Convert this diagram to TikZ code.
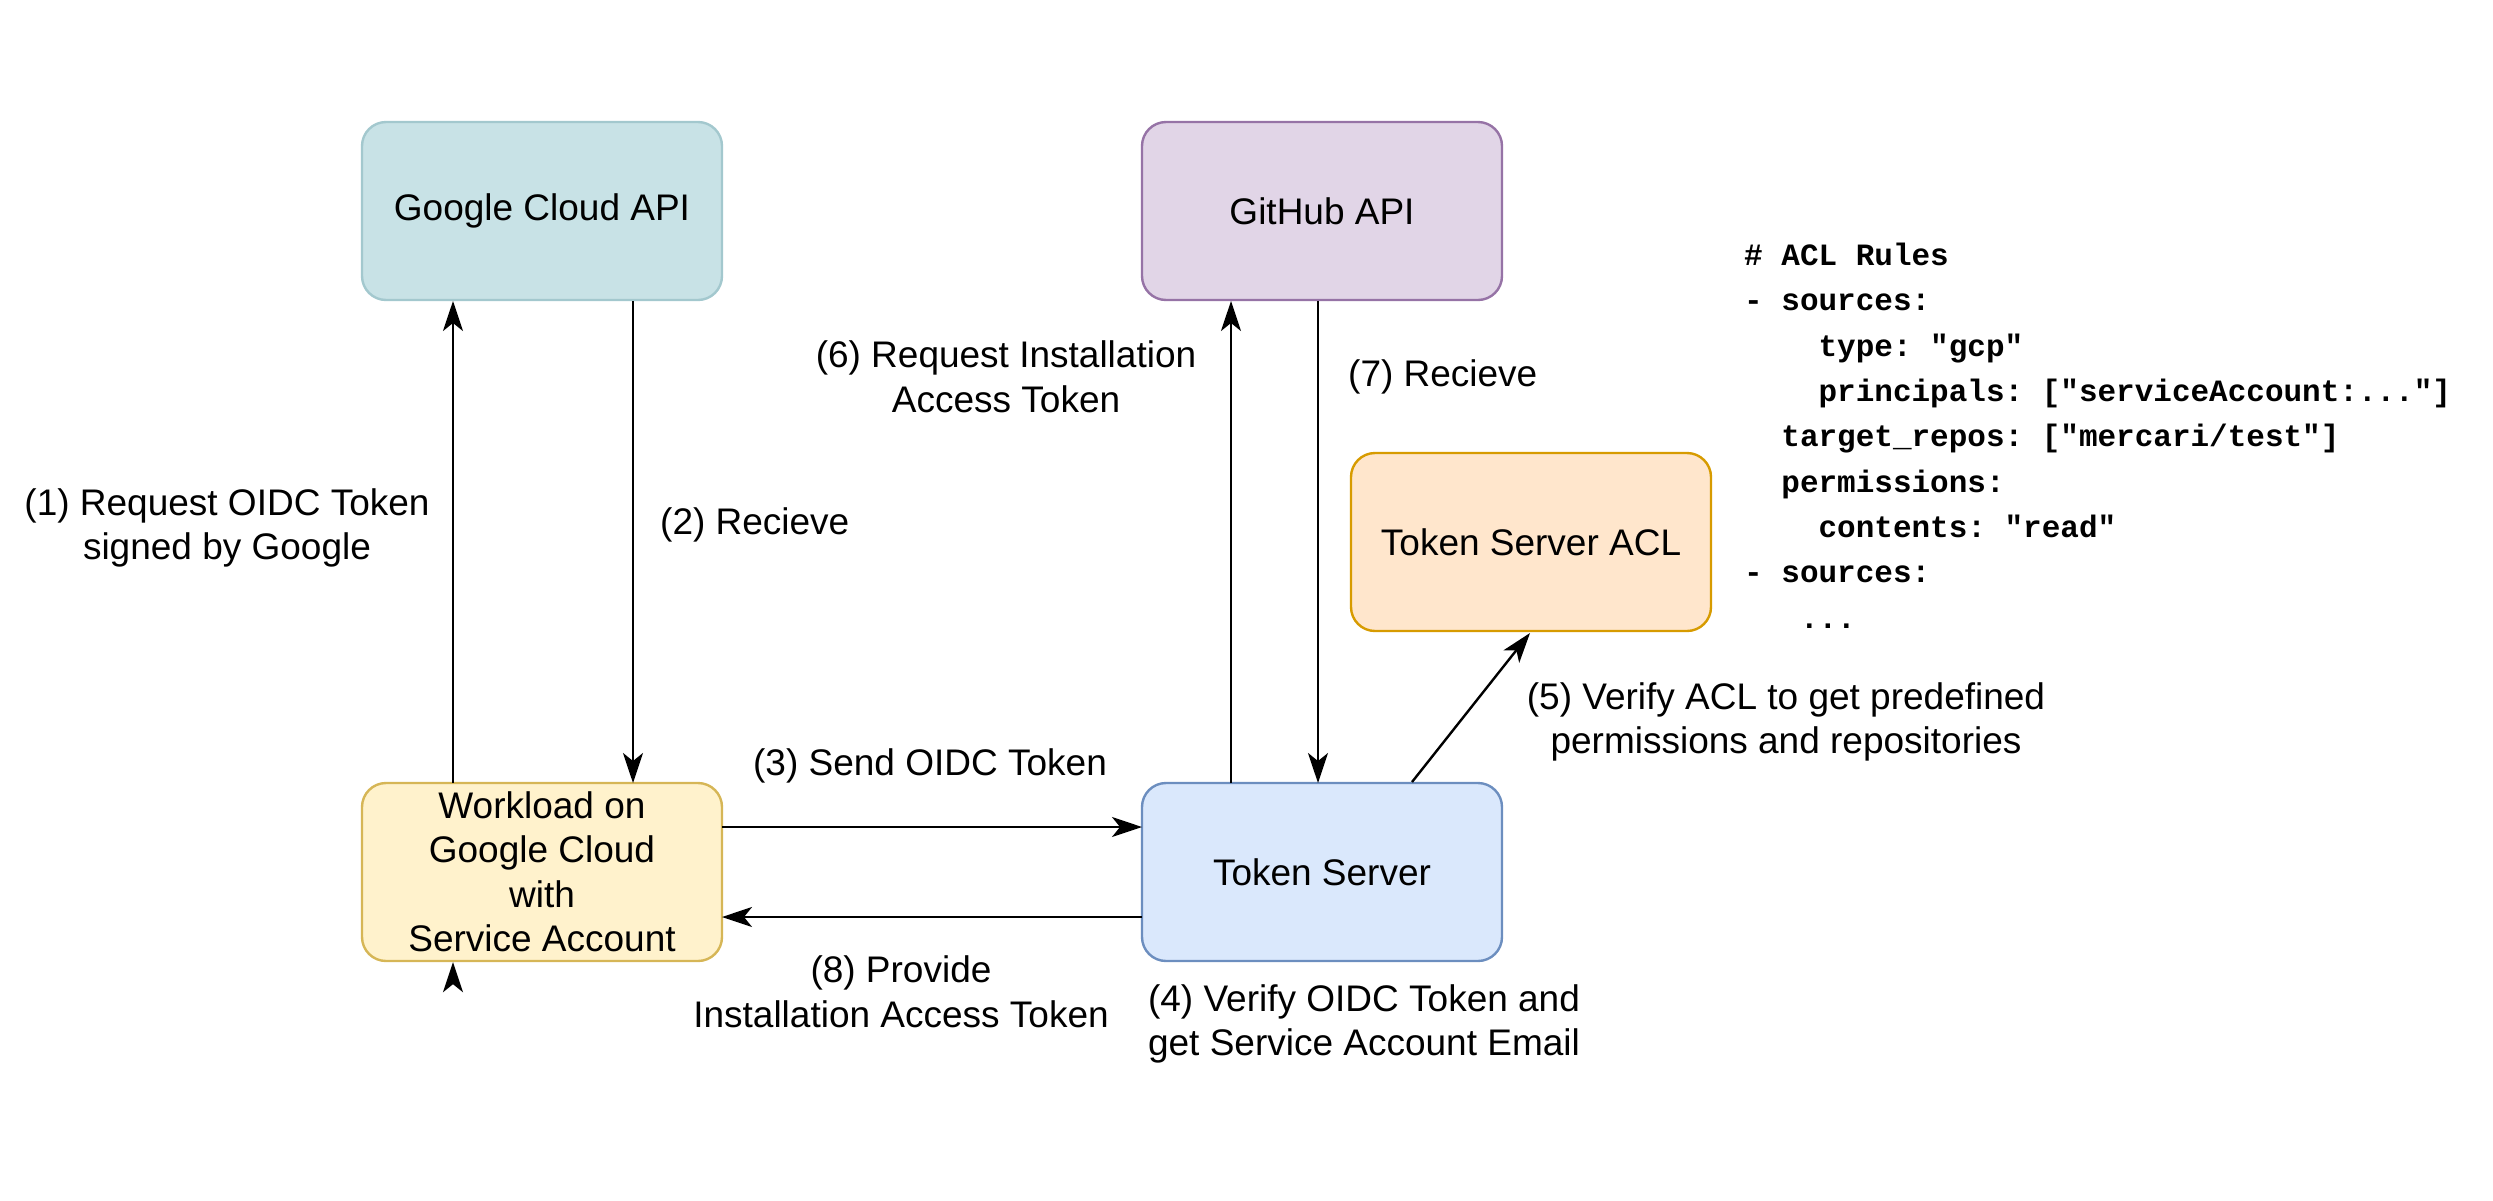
\documentclass[tikz,border=0pt]{standalone}
\usepackage{fontspec}
\setmainfont{Liberation Sans}
\newfontfamily\aclmono{Liberation Mono}
\usetikzlibrary{arrows.meta}
\definecolor{gcF}{HTML}{C8E2E6}\definecolor{gcD}{HTML}{A3C8CE}
\definecolor{ghF}{HTML}{E1D5E7}\definecolor{ghD}{HTML}{9673A6}
\definecolor{wlF}{HTML}{FFF2CC}\definecolor{wlD}{HTML}{D6B656}
\definecolor{tsF}{HTML}{DAE8FC}\definecolor{tsD}{HTML}{6C8EBF}
\definecolor{acF}{HTML}{FFE6CC}\definecolor{acD}{HTML}{D79B00}
\begin{document}
\begin{tikzpicture}[x=1pt,y=-1pt,
  box/.style={draw, line width=2.4pt, rounded corners=24pt, minimum width=360pt, minimum height=178pt, align=center, font=\fontsize{37}{44.5}\selectfont, inner sep=0pt},
  lbl/.style={align=center, font=\fontsize{37}{44.5}\selectfont, inner sep=0pt},
  arr/.style={line width=2.4pt, -{Stealth[length=30pt,width=20pt,inset=8pt]}}]
\useasboundingbox (0,0) rectangle (2493,1200);
\node[box, fill=gcF, draw=gcD] (gc) at (542,211) {Google Cloud API};
\node[box, fill=ghF, draw=ghD] (gh) at (1322,211) {GitHub API};
\node[box, fill=wlF, draw=wlD] (wl) at (542,872) {Workload on\\Google Cloud\\with\\Service Account};
\node[box, fill=tsF, draw=tsD] (ts) at (1322,872) {Token Server};
\node[box, fill=acF, draw=acD] (acl) at (1531,542) {Token Server ACL};
\draw[arr] (wl.south west -| 453,0) ++(0,0) coordinate (a1s);
\draw[arr] (453,783) coordinate (p1) -- (453,301) coordinate (q1);
\draw[arr] (633,301) -- (633,783);
\draw[arr] (1231,783) -- (1231,301);
\draw[arr] (1318,301) -- (1318,783);
\draw[arr] (722,827) -- (1142,827);
\draw[arr] (1142,917) -- (722,917);
\draw[arr] (1412,782) -- (1530,633);
\node[lbl] (l1) at (227,528) {(1) Request OIDC Token\\signed by Google};
\node[lbl, anchor=west] (l2) at (660,525) {(2) Recieve};
\node[lbl] (l6) at (1006,377) {(6) Request Installation\\Access Token};
\node[lbl, anchor=west] (l7) at (1348,377) {(7) Recieve};
\node[lbl] (l3) at (930,766) {(3) Send OIDC Token};
\node[lbl] (l8) at (901,992) {(8) Provide\\Installation Access Token};
\node[lbl] (l4) at (1364,1024) {(4) Verify OIDC Token and\\get Service Account Email};
\node[lbl] (l5) at (1786,722) {(5) Verify ACL to get predefined\\permissions and repositories};
\node[anchor=north west, align=left, inner sep=0pt, font=\aclmono\bfseries\fontsize{31}{45.3}\selectfont] (code) at (1744,243) {%
\#~ACL~Rules\\
-~sources:\\
\ \ \ \ type:~"gcp"\\
\ \ \ \ principals:~["serviceAccount:..."]\\
\ \ target\_repos:~["mercari/test"]\\
\ \ permissions:\\
\ \ \ \ contents:~"read"\\
-~sources:\\
\ \ \ ...};
\end{tikzpicture}
\end{document}
